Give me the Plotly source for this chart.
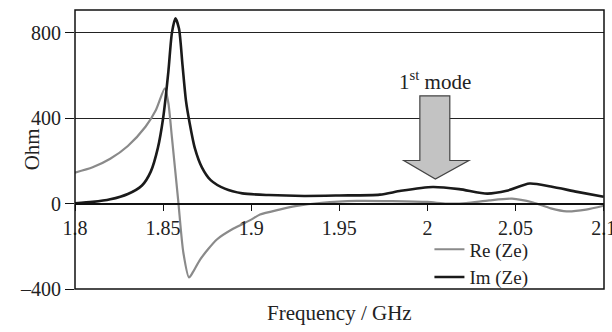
import plotly.graph_objects as go

# Frequency (GHz) and impedance values (Ohm)
freq_re = [1.80, 1.81, 1.82, 1.83, 1.84, 1.846, 1.851, 1.853, 1.855, 1.8585, 1.8615,
           1.8647, 1.867, 1.871, 1.8805, 1.8897, 1.90, 1.905, 1.916, 1.925, 1.94,
           1.96, 1.98, 2.00, 2.011, 2.022, 2.035, 2.048, 2.06, 2.07, 2.079, 2.09, 2.10]
re_ze = [145, 170, 210, 270, 360, 440, 540, 470, 310, 20, -230,
         -346, -320, -262, -168, -118, -75, -51, -28, -12, 4,
         13, 12, 8, 0, 2, 15, 23, 5, -22, -36, -28, -10]

freq_im = [1.80, 1.81, 1.82, 1.83, 1.838, 1.843, 1.847, 1.850, 1.853, 1.855, 1.857,
           1.859, 1.861, 1.863, 1.865, 1.868, 1.872, 1.877, 1.885, 1.895, 1.91,
           1.93, 1.95, 1.973, 1.985, 2.003, 2.018, 2.034, 2.045, 2.058, 2.07, 2.085, 2.10]
im_ze = [2, 8, 20, 45, 85, 150, 260, 400, 620, 800, 868,
         820, 650, 480, 380, 260, 170, 110, 70, 48, 40,
         36, 38, 42, 60, 78, 68, 47, 60, 94, 80, 55, 32]

x_ticks = [1.8, 1.85, 1.9, 1.95, 2.0, 2.05, 2.1]
x_tick_labels = ["1.8", "1.85", "1.9", "1.95", "2", "2.05", "2.1"]
y_ticks = [-400, 0, 400, 800]
y_tick_labels = ["\u2013400", "0", "400", "800"]

Y_RANGE = [-400, 907]
FONT = "Liberation Serif, Times New Roman, serif"
FS = 20
FS2 = 21

fig = go.Figure()
fig.add_trace(go.Scatter(x=freq_re, y=re_ze, mode="lines", name="Re (Ze)",
                         line=dict(color="#8a8a8a", width=2.2, shape="spline", smoothing=0.7)))
fig.add_trace(go.Scatter(x=freq_im, y=im_ze, mode="lines", name="Im (Ze)",
                         line=dict(color="#1a1a1a", width=2.6, shape="spline", smoothing=0.7)))

zero_pos = (0 - Y_RANGE[0]) / (Y_RANGE[1] - Y_RANGE[0])

fig.update_layout(
    width=612, height=332,
    margin=dict(l=75, r=8, t=10, b=43, autoexpand=False),
    paper_bgcolor="white", plot_bgcolor="white",
    font=dict(family=FONT, size=FS, color="#222"),
    xaxis=dict(range=[1.8, 2.1002], tickvals=x_ticks, ticktext=x_tick_labels,
               anchor="free", position=zero_pos, ticklabeloverflow="allow",
               automargin=False,
               showline=True, linecolor="#111", linewidth=2,
               ticks="outside", ticklen=6, tickcolor="#111", tickwidth=1.2,
               showgrid=False, zeroline=False,
               tickfont=dict(family=FONT, size=FS, color="#222")),
    yaxis=dict(range=Y_RANGE, tickvals=y_ticks, ticktext=y_tick_labels,
               automargin=False,
               showline=False, ticks="outside", ticklen=9, tickcolor="#111", tickwidth=1.2,
               showgrid=True, gridcolor="#222", gridwidth=1.2,
               zeroline=False,
               tickfont=dict(family=FONT, size=FS, color="#222")),
    legend=dict(x=0.67, y=0.21, xanchor="left", yanchor="top",
                bgcolor="rgba(0,0,0,0)", font=dict(family=FONT, size=19, color="#222"),
                tracegroupgap=0, itemwidth=30),
    showlegend=True,
)

# frame
fig.add_shape(type="rect", xref="paper", yref="paper", x0=0, y0=0, x1=1, y1=1,
              line=dict(color="#111", width=1.5), layer="above")

# block arrow for "1st mode"
ax = [1.9957, 2.0127, 2.0127, 2.0235, 2.0045, 1.9866, 1.9957]
ay = [505, 505, 202, 202, 115, 202, 202]
path = "M " + " L ".join(f"{a},{b}" for a, b in zip(ax, ay)) + " Z"
fig.add_shape(type="path", path=path, xref="x", yref="y",
              fillcolor="#c3c3c3", line=dict(color="#444", width=1.2), layer="above")

fig.add_annotation(x=2.0045, y=575, xref="x", yref="y", text="1<sup>st</sup> mode",
                   showarrow=False, font=dict(family=FONT, size=FS2, color="#222"),
                   yanchor="middle")

fig.add_annotation(x=0.5, y=-0.086, xref="paper", yref="paper", text="Frequency / GHz",
                   showarrow=False, yanchor="middle",
                   font=dict(family=FONT, size=FS2, color="#222"))
fig.add_annotation(x=-0.108, y=0.5, xref="paper", yref="paper", text="Ohm",
                   textangle=-90, showarrow=False,
                   font=dict(family=FONT, size=FS2, color="#222"))

fig.write_html("out.html")
